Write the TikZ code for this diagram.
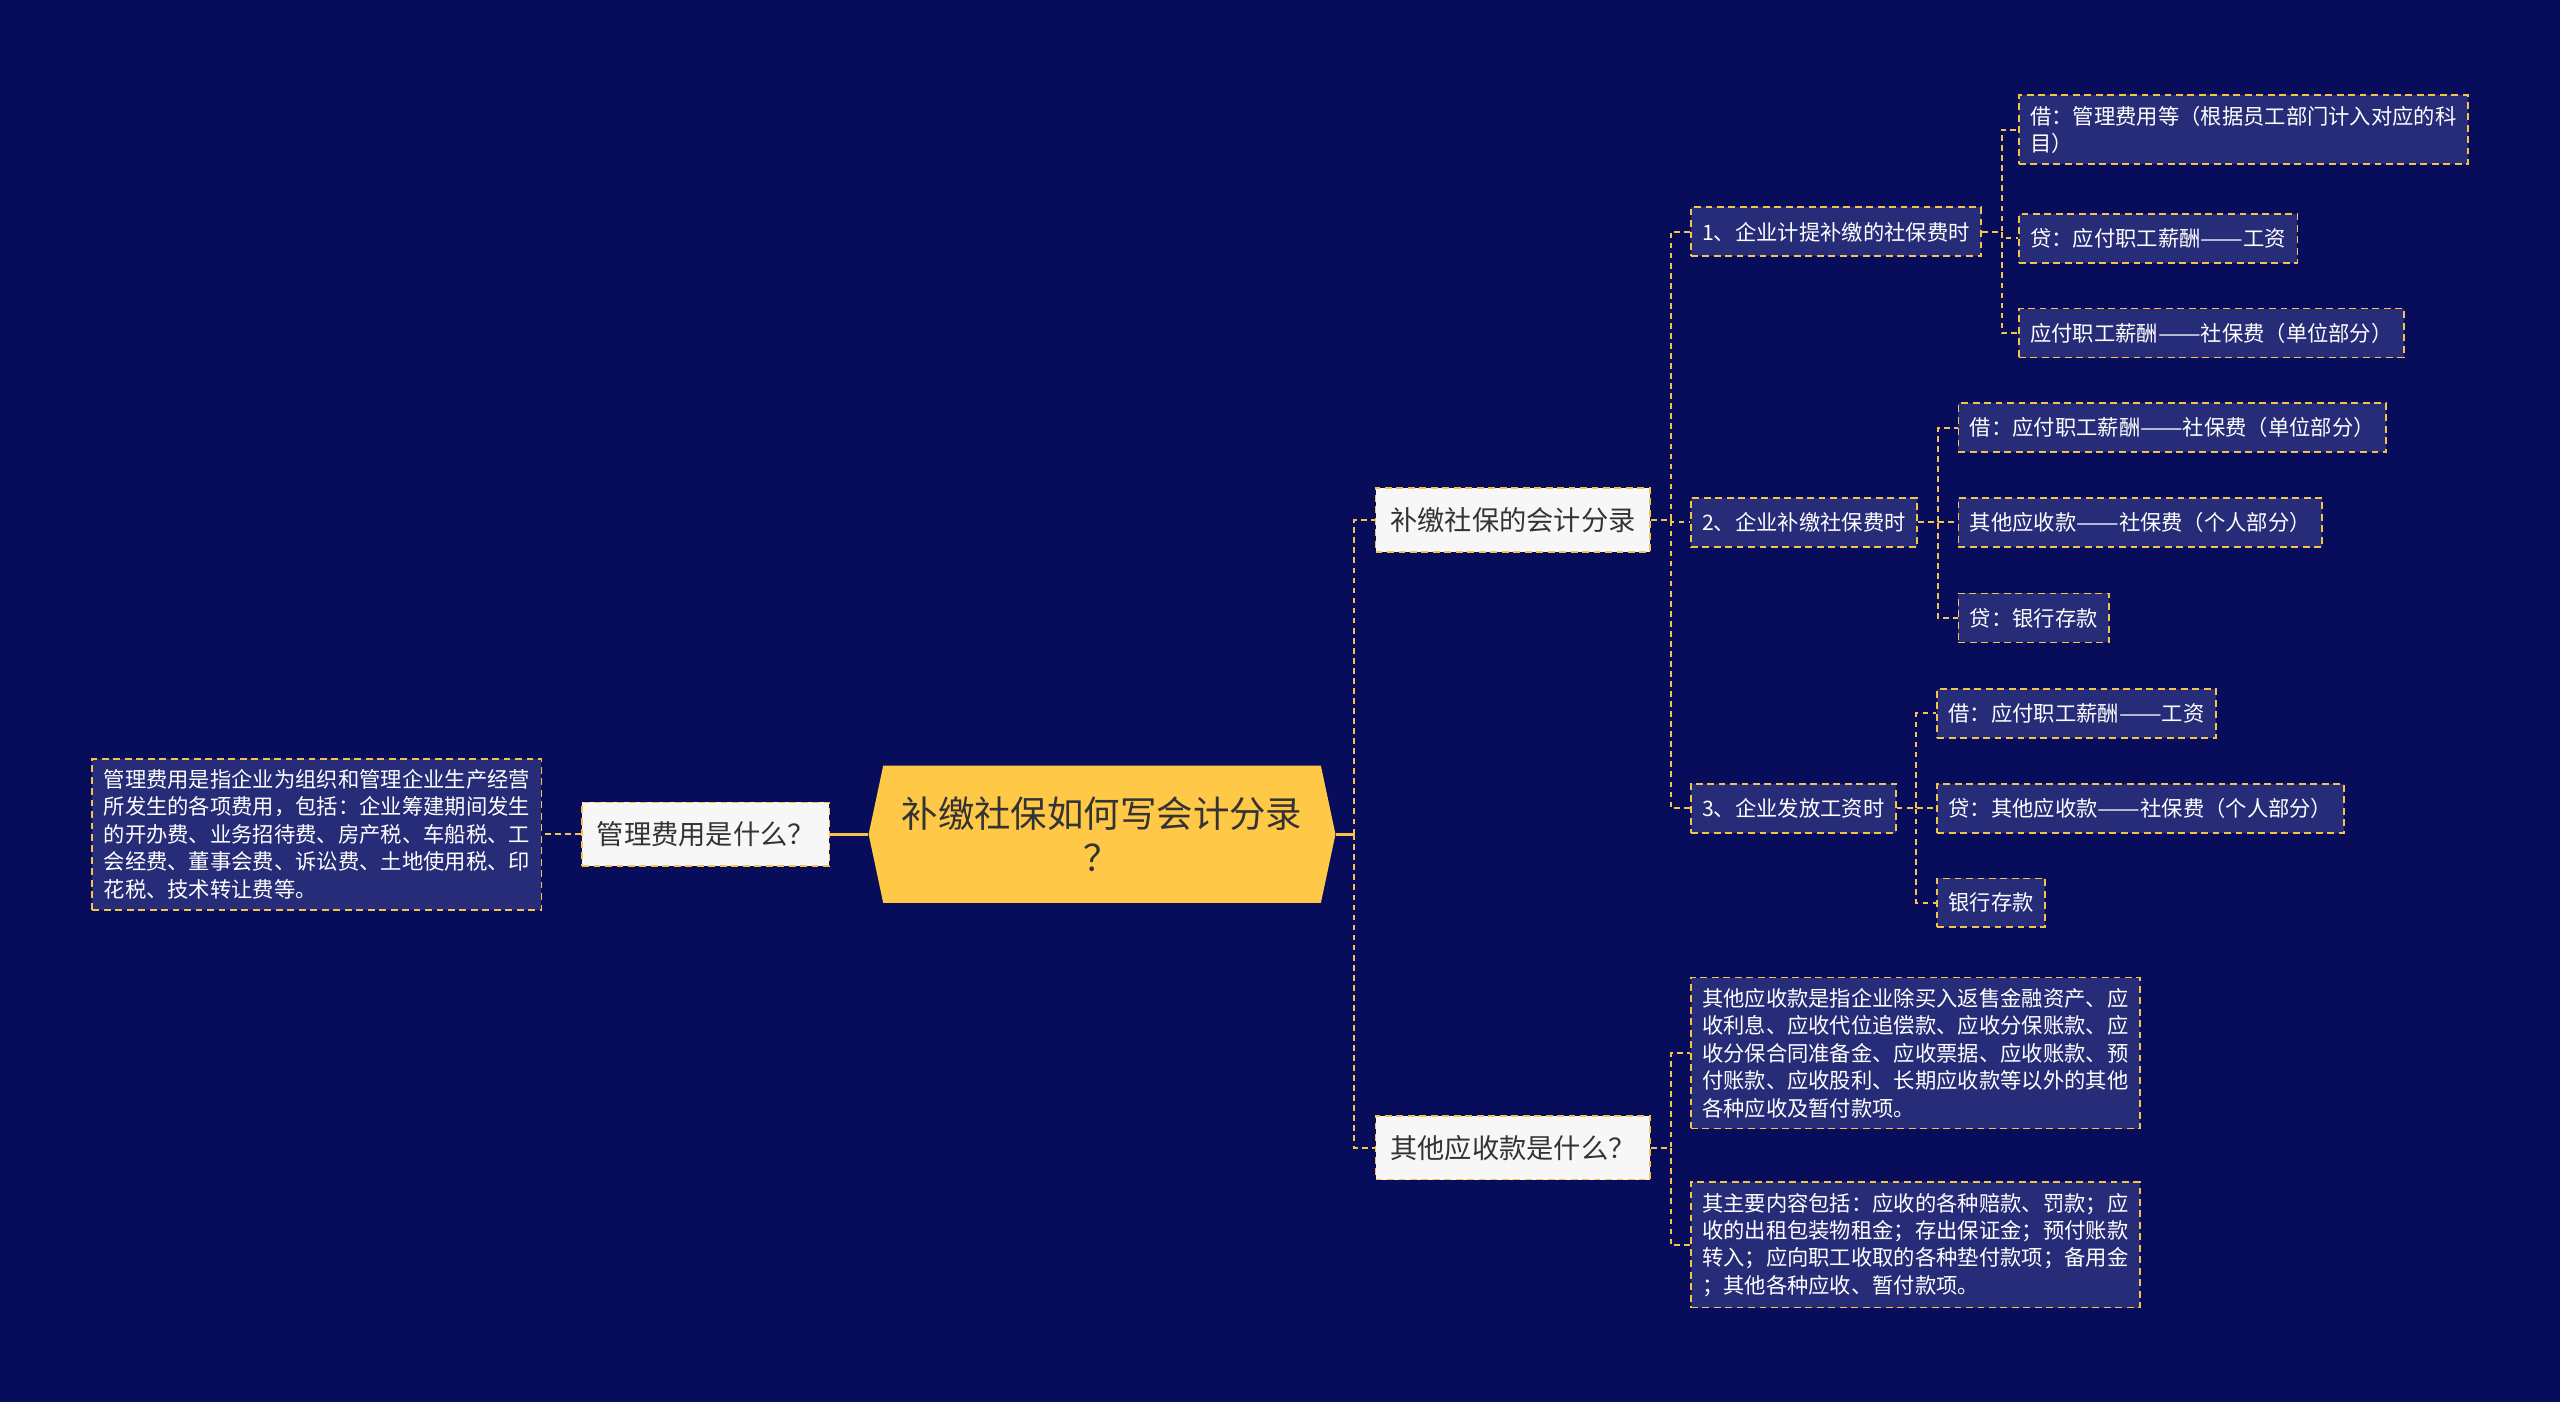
\documentclass[tikz,border=0pt]{standalone}
\usepackage{fontspec}
\usepackage{graphicx}
\setmainfont{Noto Sans CJK SC}
\usetikzlibrary{shapes.symbols, positioning}

\definecolor{bgnavy}{HTML}{070C5B}
\definecolor{boxnavy}{HTML}{262C77}
\definecolor{lineyel}{HTML}{F5C24C}
\definecolor{rootyel}{HTML}{FFC847}
\definecolor{inkdark}{HTML}{333333}
\definecolor{paper}{HTML}{F7F7F7}

% full-width double dash
\newcommand{\cndash}{\resizebox{2em}{\height}{——}}

\begin{document}
\begin{tikzpicture}[
    x=0.02cm, y=-0.02cm,
    link/.style={draw=lineyel, line width=0.7pt, dash pattern=on 2pt off 1.5pt},
    stem/.style={draw=lineyel, line width=1pt},
    box/.style={draw=lineyel, line width=0.6pt, dash pattern=on 2.4pt off 1.6pt,
                anchor=west},
    topic/.style={box, fill=paper, text=inkdark,
                  font=\fontsize{9.5pt}{11pt}\selectfont,
                  inner xsep=0.18cm, inner ysep=0pt, minimum height=0.78cm},
    sub/.style={box, fill=boxnavy, text=white,
                font=\fontsize{7.43pt}{9.58pt}\selectfont,
                inner xsep=0.14cm, inner ysep=0pt, minimum height=0.6cm},
    note/.style={sub, align=left, inner ysep=0.13cm},
    root/.style={signal, signal to=west and east, signal pointer angle=156,
                 fill=rootyel, text=inkdark, align=center,
                 font=\fontsize{12.7pt}{15.3pt}\selectfont,
                 minimum width=5.72cm, minimum height=1.68cm, inner sep=0pt}
  ]
  % Background
  \fill[bgnavy] (0,0) rectangle (1568,859);
  \useasboundingbox (0,0) rectangle (1568,859);

  % Central topic
  \node[root] (root) at (675,511) {补缴社保如何写会计分录\\？};
  \coordinate (hub) at (829.5,511);

  % Left side
  \node[topic] (q1) at (356,511) {管理费用是什么？};
  \node[note] (def1) at (56,511) {管理费用是指企业为组织和管理企业生产经营\\
    所发生的各项费用，包括：企业筹建期间发生\\
    的开办费、业务招待费、房产税、车船税、工\\
    会经费、董事会费、诉讼费、土地使用税、印\\
    花税、技术转让费等。};

  % Right side, first level
  \node[topic] (acct) at (842,318.5) {补缴社保的会计分录};
  \node[topic] (other) at (842,703) {其他应收款是什么？};

  % Accounting entries
  \node[sub] (s1) at (1035,142) {1、企业计提补缴的社保费时};
  \node[sub] (s2) at (1035,320) {2、企业补缴社保费时};
  \node[sub] (s3) at (1035,495) {3、企业发放工资时};

  \node[note] (l11) at (1236,79.5) {借：管理费用等（根据员工部门计入对应的科\\目）};
  \node[sub] (l12) at (1236,146) {贷：应付职工薪酬\cndash 工资};
  \node[sub] (l13) at (1236,204) {应付职工薪酬\cndash 社保费（单位部分）};

  \node[sub] (l21) at (1199,262) {借：应付职工薪酬\cndash 社保费（单位部分）};
  \node[sub] (l22) at (1199,320) {其他应收款\cndash 社保费（个人部分）};
  \node[sub] (l23) at (1199,378.5) {贷：银行存款};

  \node[sub] (l31) at (1186,437) {借：应付职工薪酬\cndash 工资};
  \node[sub] (l32) at (1186,495) {贷：其他应收款\cndash 社保费（个人部分）};
  \node[sub] (l33) at (1186,553) {银行存款};

  % Other receivables
  \node[note] (def2) at (1035,645) {其他应收款是指企业除买入返售金融资产、应\\
    收利息、应收代位追偿款、应收分保账款、应\\
    收分保合同准备金、应收票据、应收账款、预\\
    付账款、应收股利、长期应收款等以外的其他\\
    各种应收及暂付款项。};
  \node[note] (def3) at (1035,762.5) {其主要内容包括：应收的各种赔款、罚款；应\\
    收的出租包装物租金；存出保证金；预付账款\\
    转入；应向职工收取的各种垫付款项；备用金\\
    ；其他各种应收、暂付款项。};

  % Connectors
  \draw[stem] (root.west) -- (q1.east);
  \draw[link] (q1.west) -- (def1.east);
  \draw[stem] (root.east) -- (hub);
  \draw[link] (hub) |- (acct.west);
  \draw[link] (hub) |- (other.west);

  \foreach \c in {s1,s2,s3}
    \draw[link] (acct.east) -- ++(12,0) |- (\c.west);
  \foreach \c in {l11,l12,l13}
    \draw[link] (s1.east) -- ++(12,0) |- (\c.west);
  \foreach \c in {l21,l22,l23}
    \draw[link] (s2.east) -- ++(12,0) |- (\c.west);
  \foreach \c in {l31,l32,l33}
    \draw[link] (s3.east) -- ++(12,0) |- (\c.west);
  \foreach \c in {def2,def3}
    \draw[link] (other.east) -- ++(12,0) |- (\c.west);
\end{tikzpicture}
\end{document}
